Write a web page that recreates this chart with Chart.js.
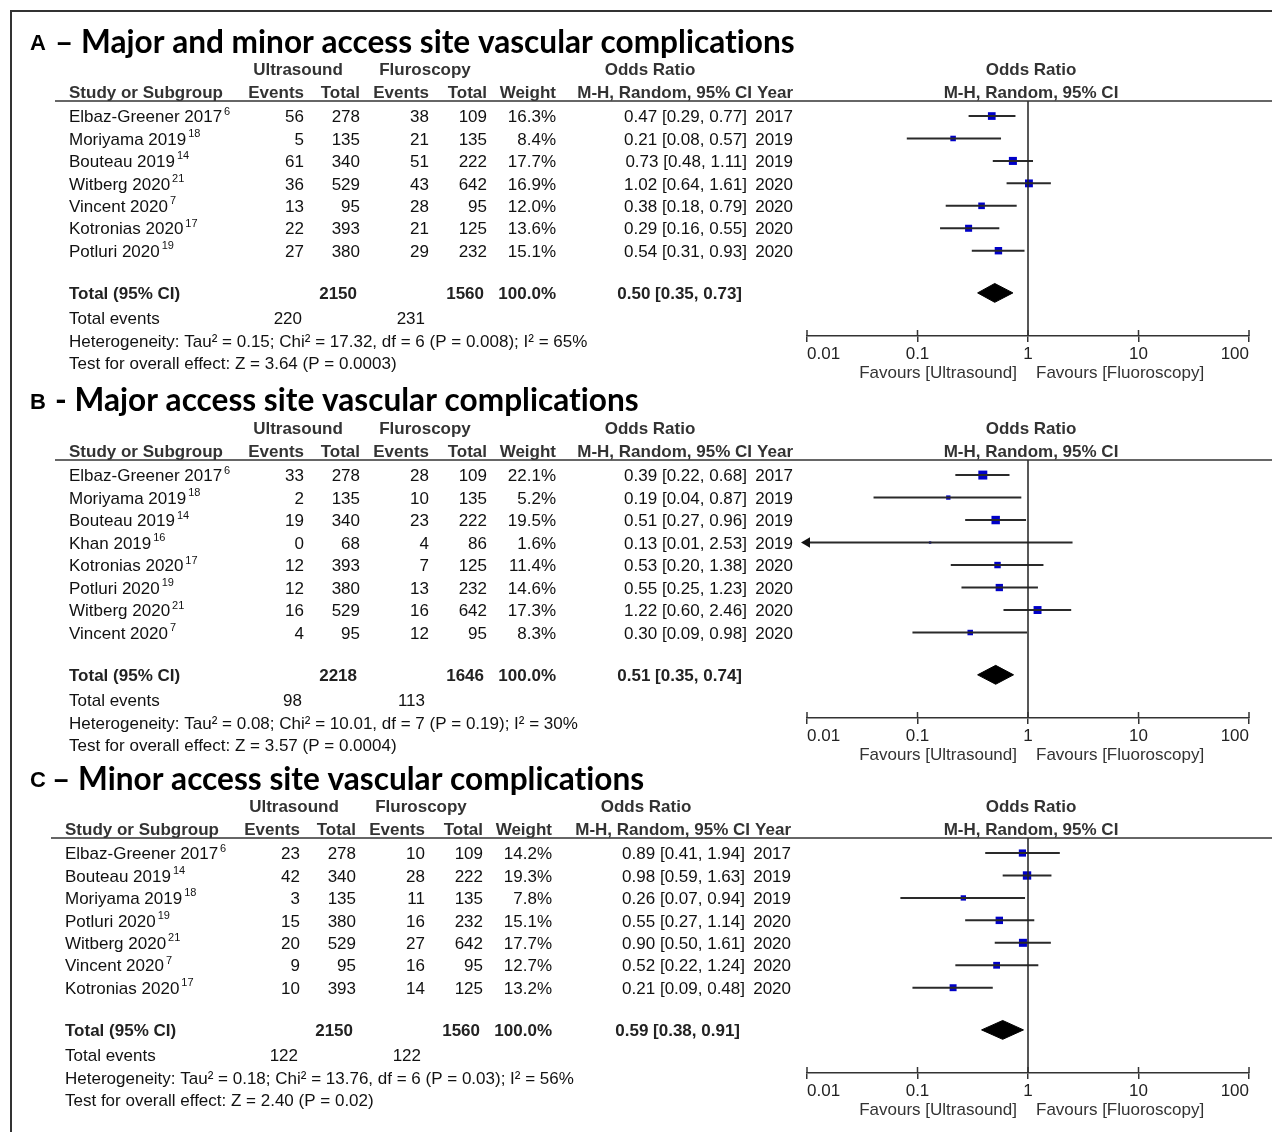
<!DOCTYPE html>
<html>
<head>
<meta charset="utf-8">
<script src="https://cdn.jsdelivr.net/npm/chart.js@4.4.1/dist/chart.umd.min.js"></script>
<style>
html,body{margin:0;padding:0;background:#fff;}
body{width:1272px;height:1132px;position:relative;overflow:hidden;}
.frame{position:absolute;left:10px;top:10px;width:1262px;height:1122px;border-left:2px solid #333;border-top:2px solid #333;box-sizing:border-box;}
.wrap{position:absolute;left:0;width:1272px;}
</style>
</head>
<body>
<div class="frame"></div>
<div class="wrap" id="wA" style="top:0;height:385px"><canvas id="cA"></canvas></div>
<div class="wrap" id="wB" style="top:380px;height:392px"><canvas id="cB"></canvas></div>
<div class="wrap" id="wC" style="top:752px;height:380px"><canvas id="cC"></canvas></div>
<script>
// ---------------- DATA ----------------
const X_TICKS = [0.01, 0.1, 1, 10, 100];
const X_TICK_LABELS = ['0.01', '0.1', '1', '10', '100'];

// Panel A – Major and minor access site vascular complications
const A_names = ['Elbaz-Greener 2017', 'Moriyama 2019', 'Bouteau 2019', 'Witberg 2020', 'Vincent 2020', 'Kotronias 2020', 'Potluri 2020'];
const A_refs = ['6', '18', '14', '21', '7', '17', '19'];
const A_usEvents = [56, 5, 61, 36, 13, 22, 27];
const A_usTotal = [278, 135, 340, 529, 95, 393, 380];
const A_flEvents = [38, 21, 51, 43, 28, 21, 29];
const A_flTotal = [109, 135, 222, 642, 95, 125, 232];
const A_weight = [16.3, 8.4, 17.7, 16.9, 12.0, 13.6, 15.1];
const A_or = [0.47, 0.21, 0.73, 1.02, 0.38, 0.29, 0.54];
const A_lo = [0.29, 0.08, 0.48, 0.64, 0.18, 0.16, 0.31];
const A_hi = [0.77, 0.57, 1.11, 1.61, 0.79, 0.55, 0.93];
const A_year = ['2017', '2019', '2019', '2020', '2020', '2020', '2020'];
const A_total = [2150, 1560];          // ultrasound, fluoroscopy
const A_totalEvents = [220, 231];
const A_pooled = [0.50, 0.35, 0.73];   // OR, lower, upper
const A_het = 'Heterogeneity: Tau² = 0.15; Chi² = 17.32, df = 6 (P = 0.008); I² = 65%';
const A_test = 'Test for overall effect: Z = 3.64 (P = 0.0003)';

// Panel B – Major access site vascular complications
const B_names = ['Elbaz-Greener 2017', 'Moriyama 2019', 'Bouteau 2019', 'Khan 2019', 'Kotronias 2020', 'Potluri 2020', 'Witberg 2020', 'Vincent 2020'];
const B_refs = ['6', '18', '14', '16', '17', '19', '21', '7'];
const B_usEvents = [33, 2, 19, 0, 12, 12, 16, 4];
const B_usTotal = [278, 135, 340, 68, 393, 380, 529, 95];
const B_flEvents = [28, 10, 23, 4, 7, 13, 16, 12];
const B_flTotal = [109, 135, 222, 86, 125, 232, 642, 95];
const B_weight = [22.1, 5.2, 19.5, 1.6, 11.4, 14.6, 17.3, 8.3];
const B_or = [0.39, 0.19, 0.51, 0.13, 0.53, 0.55, 1.22, 0.30];
const B_lo = [0.22, 0.04, 0.27, 0.01, 0.20, 0.25, 0.60, 0.09];
const B_hi = [0.68, 0.87, 0.96, 2.53, 1.38, 1.23, 2.46, 0.98];
const B_year = ['2017', '2019', '2019', '2019', '2020', '2020', '2020', '2020'];
const B_total = [2218, 1646];
const B_totalEvents = [98, 113];
const B_pooled = [0.51, 0.35, 0.74];
const B_het = 'Heterogeneity: Tau² = 0.08; Chi² = 10.01, df = 7 (P = 0.19); I² = 30%';
const B_test = 'Test for overall effect: Z = 3.57 (P = 0.0004)';

// Panel C – Minor access site vascular complications
const C_names = ['Elbaz-Greener 2017', 'Bouteau 2019', 'Moriyama 2019', 'Potluri 2020', 'Witberg 2020', 'Vincent 2020', 'Kotronias 2020'];
const C_refs = ['6', '14', '18', '19', '21', '7', '17'];
const C_usEvents = [23, 42, 3, 15, 20, 9, 10];
const C_usTotal = [278, 340, 135, 380, 529, 95, 393];
const C_flEvents = [10, 28, 11, 16, 27, 16, 14];
const C_flTotal = [109, 222, 135, 232, 642, 95, 125];
const C_weight = [14.2, 19.3, 7.8, 15.1, 17.7, 12.7, 13.2];
const C_or = [0.89, 0.98, 0.26, 0.55, 0.90, 0.52, 0.21];
const C_lo = [0.41, 0.59, 0.07, 0.27, 0.50, 0.22, 0.09];
const C_hi = [1.94, 1.63, 0.94, 1.14, 1.61, 1.24, 0.48];
const C_year = ['2017', '2019', '2019', '2020', '2020', '2020', '2020'];
const C_total = [2150, 1560];
const C_totalEvents = [122, 122];
const C_pooled = [0.59, 0.38, 0.91];
const C_het = 'Heterogeneity: Tau² = 0.18; Chi² = 13.76, df = 6 (P = 0.03); I² = 56%';
const C_test = 'Test for overall effect: Z = 2.40 (P = 0.02)';

// ---------------- LAYOUT ----------------
const FONT = '"Liberation Sans", Arial, Helvetica, sans-serif';
const TITLE_FONT = 'Lato, "Open Sans", sans-serif';
const X_MIN = 0.01, X_MAX = 100;
const FS = 17;          // table font size
const TY = 1.5;         // baseline nudge

// canvas A: page y 0..385, chart area 101..336
// canvas B: page y 380..772, chart area 460..718
// canvas C: page y 752..1132, chart area 838..1073
const panels = [
  {canvas: 'cA', letter: 'A', title: '– Major and minor access site vascular complications',
   names: A_names, refs: A_refs, usE: A_usEvents, usT: A_usTotal, flE: A_flEvents, flT: A_flTotal,
   w: A_weight, or: A_or, lo: A_lo, hi: A_hi, year: A_year, total: A_total, totEv: A_totalEvents,
   pooled: A_pooled, het: A_het, test: A_test,
   L: {padTop: 101, axisH: 49, dx: 0, dxR: 0, titleX: 55}},
  {canvas: 'cB', letter: 'B', title: '- Major access site vascular complications',
   names: B_names, refs: B_refs, usE: B_usEvents, usT: B_usTotal, flE: B_flEvents, flT: B_flTotal,
   w: B_weight, or: B_or, lo: B_lo, hi: B_hi, year: B_year, total: B_total, totEv: B_totalEvents,
   pooled: B_pooled, het: B_het, test: B_test,
   L: {padTop: 80, axisH: 54, dx: 0, dxR: 0, titleX: 55}},
  {canvas: 'cC', letter: 'C', title: '– Minor access site vascular complications',
   names: C_names, refs: C_refs, usE: C_usEvents, usT: C_usTotal, flE: C_flEvents, flT: C_flTotal,
   w: C_weight, or: C_or, lo: C_lo, hi: C_hi, year: C_year, total: C_total, totEv: C_totalEvents,
   pooled: C_pooled, het: C_het, test: C_test,
   L: {padTop: 86, axisH: 59, dx: -4, dxR: -2, titleX: 52}}
];

// title size fitted so that panel A's title spans ~740px (as in the original)
let TITLE_SIZE = 32;
(function fitTitle() {
  const c = document.createElement('canvas').getContext('2d');
  c.font = '700 32px ' + TITLE_FONT;
  try { c.letterSpacing = '0.01px'; } catch (e) {}
  const w = c.measureText(panels[0].title).width;
  if (w > 0) TITLE_SIZE = Math.min(36, Math.max(28, 32 * 740 / w));
})();

function drawTable(chart, P) {
  const L = P.L;
  const ctx = chart.ctx;
  const ys = chart.scales.y, xs = chart.scales.x;
  const Y = r => ys.getPixelForValue(r) + TY;
  const N = P.names.length;
  const dx = L.dx, dxR = L.dxR;
  const nameX = 69 + dx;
  const col = [304 + dx, 360 + dx, 429 + dx, 487 + dx, 556 + dx];
  const orX = 747 + dxR, yearX = 793 + dxR;
  const txt = (s, x, y, align, font, color) => {
    ctx.font = font; ctx.fillStyle = color || '#111'; ctx.textAlign = align; ctx.fillText(s, x, y);
  };
  const reg = FS + 'px ' + FONT, bold = 'bold ' + FS + 'px ' + FONT;
  ctx.save();
  ctx.textBaseline = 'middle';

  // Title
  txt(P.letter, 30, Y(-3.35) + 2, 'left', 'bold 22px ' + FONT, '#000');
  try { ctx.letterSpacing = '0.01px'; } catch (e) {}
  txt(P.title, L.titleX, Y(-3.35), 'left', '700 ' + TITLE_SIZE.toFixed(2) + 'px ' + TITLE_FONT, '#000');
  try { ctx.letterSpacing = '0px'; } catch (e) {}

  // Header row 1
  const hc = '#333';
  txt('Ultrasound', 298 + dx, Y(-2.1), 'center', bold, hc);
  txt('Fluroscopy', 425 + dx, Y(-2.1), 'center', bold, hc);
  txt('Odds Ratio', 650 + dx, Y(-2.1), 'center', bold, hc);
  const midX = xs.getPixelForValue(1) + 3;
  txt('Odds Ratio', midX, Y(-2.1), 'center', bold, hc);
  // Header row 2
  txt('Study or Subgroup', nameX, Y(-1.1), 'left', bold, hc);
  txt('Events', col[0], Y(-1.1), 'right', bold, hc);
  txt('Total', col[1], Y(-1.1), 'right', bold, hc);
  txt('Events', col[2], Y(-1.1), 'right', bold, hc);
  txt('Total', col[3], Y(-1.1), 'right', bold, hc);
  txt('Weight', col[4], Y(-1.1), 'right', bold, hc);
  txt('M-H, Random, 95% CI', orX + 5, Y(-1.1), 'right', bold, hc);
  txt('Year', yearX, Y(-1.1), 'right', bold, hc);
  txt('M-H, Random, 95% CI', midX, Y(-1.1), 'center', bold, hc);

  // header rule
  const top = chart.chartArea.top;
  ctx.strokeStyle = '#333'; ctx.lineWidth = 1.5;
  ctx.beginPath(); ctx.moveTo(55 + dx, top); ctx.lineTo(1272, top); ctx.stroke();

  // Study rows
  for (let i = 0; i < N; i++) {
    const y = Y(i);
    txt(P.names[i], nameX, y, 'left', reg);
    ctx.font = reg;
    const w = ctx.measureText(P.names[i]).width;
    txt(P.refs[i], nameX + w + 2, y - 6, 'left', '11px ' + FONT);
    txt(String(P.usE[i]), col[0], y, 'right', reg);
    txt(String(P.usT[i]), col[1], y, 'right', reg);
    txt(String(P.flE[i]), col[2], y, 'right', reg);
    txt(String(P.flT[i]), col[3], y, 'right', reg);
    txt(P.w[i].toFixed(1) + '%', col[4], y, 'right', reg);
    txt(P.or[i].toFixed(2) + ' [' + P.lo[i].toFixed(2) + ', ' + P.hi[i].toFixed(2) + ']', orX, y, 'right', reg);
    txt(P.year[i], yearX, y, 'right', reg);
  }
  // Total row
  const yt = Y(N + 0.88);
  const wsum = P.w.reduce((a, b) => a + b, 0);
  txt('Total (95% CI)', nameX, yt, 'left', bold, '#222');
  txt(String(P.total[0]), col[1] - 3, yt, 'right', bold, '#222');
  txt(String(P.total[1]), col[3] - 3, yt, 'right', bold, '#222');
  txt(wsum.toFixed(1) + '%', col[4], yt, 'right', bold, '#222');
  txt(P.pooled[0].toFixed(2) + ' [' + P.pooled[1].toFixed(2) + ', ' + P.pooled[2].toFixed(2) + ']', orX - 5, yt, 'right', bold, '#222');
  // Total events / heterogeneity / test
  txt('Total events', nameX, Y(N + 2), 'left', reg);
  txt(String(P.totEv[0]), col[0] - 2, Y(N + 2), 'right', reg);
  txt(String(P.totEv[1]), col[2] - 4, Y(N + 2), 'right', reg);
  txt(P.het, nameX, Y(N + 3), 'left', reg);
  txt(P.test, nameX, Y(N + 4), 'left', reg);

  // favours labels
  const x1 = xs.getPixelForValue(1);
  txt('Favours [Ultrasound]', x1 - 11, Y(N + 4.4), 'right', reg, '#333');
  txt('Favours [Fluoroscopy]', x1 + 8, Y(N + 4.4), 'left', reg, '#333');

  // upward half of axis ticks
  const bottom = chart.chartArea.bottom;
  ctx.strokeStyle = '#333'; ctx.lineWidth = 1.5;
  X_TICKS.forEach(v => {
    const x = xs.getPixelForValue(v);
    ctx.beginPath(); ctx.moveTo(x, bottom - 6); ctx.lineTo(x, bottom); ctx.stroke();
  });
  ctx.restore();
}

function build(P) {
  const N = P.names.length;
  const yMin = -0.67, yMax = N + 2.8;
  const rowTot = N + 0.88;
  const ds = [];
  // line of no effect
  ds.push({data: [{x: 1, y: yMin}, {x: 1, y: yMax}], showLine: true, borderColor: '#222',
           borderWidth: 1.5, pointRadius: 0, clip: false});
  // confidence intervals
  P.or.forEach((v, i) => {
    const clipped = P.lo[i] <= X_MIN;
    ds.push({data: [{x: Math.max(P.lo[i], X_MIN), y: i}, {x: P.hi[i], y: i}], showLine: true,
      borderColor: '#2a2a2a', borderWidth: 2, pointStyle: 'triangle',
      pointRadius: [clipped ? 6 : 0, 0], pointRotation: [-90, 0],
      pointBackgroundColor: '#111', pointBorderWidth: 0, clip: false});
  });
  // point estimates (square area ~ weight)
  ds.push({data: P.or.map((v, i) => ({x: v, y: i})), showLine: false, pointStyle: 'rect',
    pointRadius: P.w.map(w => 1.35 * Math.sqrt(w)), pointBackgroundColor: '#0000c8',
    pointBorderWidth: 0});
  // pooled diamond
  const [po, pl, ph] = P.pooled;
  ds.push({data: [{x: pl, y: rowTot}, {x: po, y: rowTot - 0.42}, {x: ph, y: rowTot},
                  {x: po, y: rowTot + 0.42}, {x: pl, y: rowTot}],
    showLine: true, fill: 'shape', backgroundColor: '#000', borderColor: '#000', borderWidth: 1,
    pointRadius: 0, tension: 0});

  new Chart(document.getElementById(P.canvas), {
    type: 'scatter',
    data: {datasets: ds},
    options: {
      responsive: true, maintainAspectRatio: false, animation: false, events: [],
      layout: {padding: {left: 807, right: 23, top: P.L.padTop, bottom: 0}},
      plugins: {legend: {display: false}, tooltip: {enabled: false}, title: {display: false}},
      scales: {
        x: {type: 'logarithmic', min: X_MIN, max: X_MAX, position: 'bottom',
          afterBuildTicks: s => { s.ticks = X_TICKS.map(v => ({value: v})); },
          afterFit: s => { s.height = P.L.axisH; },
          ticks: {autoSkip: false, maxRotation: 0, minRotation: 0, align: 'inner', color: '#222',
                  font: {family: FONT, size: FS}, padding: 2,
                  callback: v => { const k = X_TICKS.indexOf(v); return k >= 0 ? X_TICK_LABELS[k] : ''; }},
          grid: {drawOnChartArea: false, drawTicks: true, tickLength: 6, color: '#333', lineWidth: 1.5},
          border: {display: true, color: '#333', width: 1.5}},
        y: {type: 'linear', display: false, min: yMin, max: yMax, reverse: true}
      }
    },
    plugins: [{id: 'forestTable' + P.letter, afterDraw: chart => drawTable(chart, P)}]
  });
}

panels.forEach(build);
</script>
</body>
</html>
